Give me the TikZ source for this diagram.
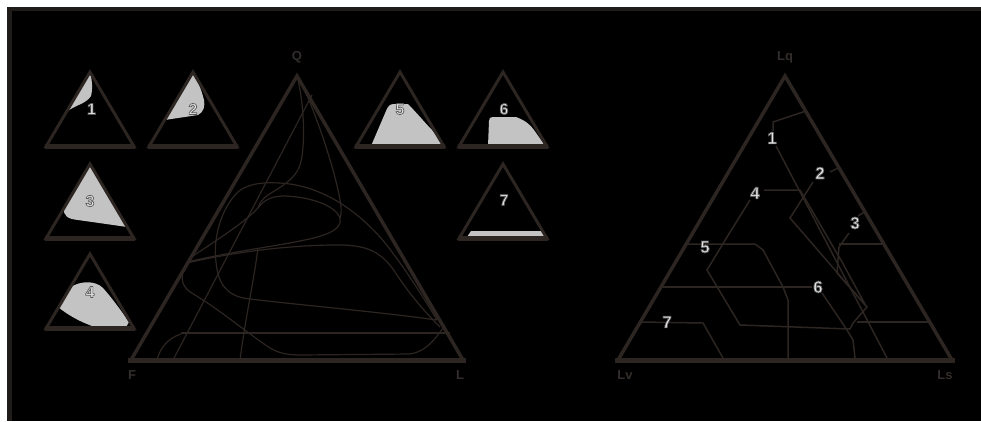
\documentclass[tikz,border=0pt]{standalone}
\usepackage{fontspec}
\setmainfont{Liberation Sans}
\definecolor{ln}{RGB}{44,37,33}
\definecolor{fr}{RGB}{32,28,26}
\definecolor{fillg}{RGB}{195,195,195}
\definecolor{numc}{RGB}{228,228,228}
\definecolor{labc}{RGB}{50,46,44}
\newcommand\outl[1]{\special{pdf:literal q 0.35 0.35 0.35 RG 0.7 w 2 Tr}#1\special{pdf:literal Q}}
\begin{document}
\begin{tikzpicture}[x=1pt,y=-1pt,
  tri/.style={draw=ln,line width=3pt,line join=miter},
  trib/.style={draw=ln,line width=4.5pt},
  curve/.style={draw=ln,line width=1.2pt},
  rline/.style={draw=ln,line width=1.5pt},
  shade/.style={fill=fillg},
  num/.style={text=numc,font=\fontsize{16}{16}\selectfont\bfseries,inner sep=0pt},
  bignum/.style={text=numc,font=\fontsize{17}{17}\selectfont\bfseries,inner sep=0pt},
  corner/.style={text=labc,font=\fontsize{13}{13}\selectfont\bfseries,inner sep=0pt},
  stri/.pic={\draw[tri] (0,0) -- (-44,74.5) -- (44,74.5) -- cycle;
             \draw[trib] (-45,74.5) -- (45,74.5);}]
\useasboundingbox (0,0) rectangle (981,421);
\fill[white] (0,0) rectangle (981,421);
\fill[fr] (7,7) rectangle (981,421);
\fill[black] (12,11) rectangle (981,421);

% ---- gray fields of the small triangles
\fill[shade] (90,72) -- (66.4,112) .. controls (75,105) and (86,104) .. (91,96) .. controls (93,88) and (92,80) .. (90,72) -- cycle;
\fill[shade] (193,72) -- (164.7,120) -- (198,115) .. controls (204,112) and (205,106) .. (204,100) .. controls (201,88) and (197,80) .. (193,72) -- cycle;
\fill[shade] (90,164) -- (64,208) .. controls (63,216) and (68,219) .. (78,220) -- (127.2,227) -- cycle;
\fill[shade] (71,287) .. controls (80,281) and (95,280) .. (103,288) .. controls (112,298) and (122,312) .. (129,322) -- (126,327) -- (95,327) .. controls (80,322) and (68,315) .. (58,307) -- cycle;
\fill[shade] (371,146) -- (386,111) .. controls (388,106) and (390,104) .. (394,104) -- (408,104) .. controls (416,112) and (426,124) .. (432,130) -- (439,139) -- (443,146) -- cycle;
\fill[shade] (488,146) -- (489,121) .. controls (489,118) and (490,117) .. (493,117) -- (516,117) .. controls (524,120) and (530,124) .. (534,130) -- (541,140) -- (545,146) -- cycle;
\fill[shade] (467,237) -- (471,231) -- (543,231) -- (546,237) -- cycle;

% ---- small triangles
\pic at (90,72) {stri};
\pic at (193,72) {stri};
\pic at (90,164) {stri};
\pic at (90,254) {stri};
\pic at (400,72) {stri};
\pic at (503,72) {stri};
\pic at (503,164) {stri};

\node[num] (n1) at (91.5,109) {\outl{1}};
\node[num] (n2) at (193,109) {\outl{2}};
\node[num] (n3) at (90,201) {\outl{3}};
\node[num] (n4) at (90,292) {\outl{4}};
\node[num] (n5) at (400,109) {\outl{5}};
\node[num] (n6) at (504,109) {\outl{6}};
\node[num] (n7) at (504,200) {\outl{7}};

% ---- QFL triangle: field boundaries
\draw[curve] (298,80) .. controls (305,110) and (305,150) .. (300,165) .. controls (295,180) and (280,187) .. (268,195) .. controls (262,199) and (259,204) .. (258,208);
\draw[curve] (300,80) .. controls (315,110) and (335,170) .. (340,200) .. controls (342,210) and (341,215) .. (340,218);
\draw[curve] (190,258) .. controls (220,238) and (245,222) .. (258,208) .. controls (265,198) and (275,196) .. (285,196) .. controls (310,197) and (335,205) .. (340,218) .. controls (343,230) and (325,236) .. (300,241) .. controls (270,247) and (230,252) .. (187,262);
\draw[curve] (187,263) .. controls (230,253) and (280,246) .. (330,245) .. controls (365,244) and (380,250) .. (395,272) .. controls (410,295) and (425,312) .. (440,327);
\draw[curve] (437,320) .. controls (425,300) and (400,260) .. (380,237) .. controls (360,215) and (330,190) .. (290,184) .. controls (265,181) and (245,183) .. (235,195) .. controls (220,212) and (213,240) .. (216,262) .. controls (218,285) and (228,297) .. (250,299) .. controls (300,305) and (380,312) .. (437,320);
\draw[curve] (184,268) .. controls (180,280) and (182,288) .. (195,295) .. controls (220,310) and (250,335) .. (270,348) .. controls (280,354) and (290,355) .. (300,355) -- (410,354) .. controls (425,352) and (435,340) .. (445,325);
\draw[curve] (258,248) .. controls (254,280) and (245,320) .. (240,360);
\draw[curve] (312,95) -- (173,360);
\draw[curve] (181,333) -- (450,333);
\draw[curve] (157,360) .. controls (160,348) and (168,338) .. (181,334);

\coordinate (Q) at (297,76);
\coordinate (F) at (131,360);
\coordinate (L) at (463,360);
\draw[tri,line width=3.5pt] (Q) -- (F) -- (L) -- cycle;
\draw[trib,line width=5pt] (128,360) -- (466,360);
\node[corner] (lQ) at (297,57) {Q};
\node[corner] (lF) at (132,375) {F};
\node[corner] (lL) at (460,375) {L};

% ---- LqLvLs triangle
\draw[rline] (806,111) -- (773,122) -- (773,131);
\draw[rline] (776,146) -- (887,358);
\draw[rline] (830,172) -- (840,167);
\draw[rline] (813,182) -- (790,218) -- (867,307) -- (853,323);
\draw[rline] (858,216) -- (866,211);
\draw[rline] (849,233) -- (839,247) -- (837,273) -- (866,306);
\draw[rline] (839,244) -- (884,244);
\draw[rline] (764,190) -- (800,190) -- (842,262) -- (866,306);
\draw[rline] (750,200) -- (727,237) -- (707,270) -- (740,325) -- (850,329) -- (853,323);
\draw[rline] (687,244) -- (755,244) -- (763,250) -- (783,287) -- (788,300) -- (788,358);
\draw[rline] (661,287) -- (812,287);
\draw[rline] (822,293) -- (847,330) -- (853,340) -- (855,358);
\draw[rline] (641,322) -- (703,323) -- (723,358);
\draw[rline] (857,322) -- (929,322);

\coordinate (Lq) at (785,76);
\coordinate (Lv) at (618,360);
\coordinate (Ls) at (952,360);
\draw[tri,line width=3.5pt] (Lq) -- (Lv) -- (Ls) -- cycle;
\draw[trib,line width=5pt] (615,360) -- (955,360);
\node[corner] (lLq) at (785,57) {Lq};
\node[corner] (lLv) at (625,375) {Lv};
\node[corner] (lLs) at (945,375) {Ls};

\node[bignum] (r1) at (772,138) {\outl{1}};
\node[bignum] (r2) at (820,173) {\outl{2}};
\node[bignum] (r3) at (855,223) {\outl{3}};
\node[bignum] (r4) at (755,193) {\outl{4}};
\node[bignum] (r5) at (705,247) {\outl{5}};
\node[bignum] (r6) at (818,287) {\outl{6}};
\node[bignum] (r7) at (667,322) {\outl{7}};
\end{tikzpicture}
\end{document}
